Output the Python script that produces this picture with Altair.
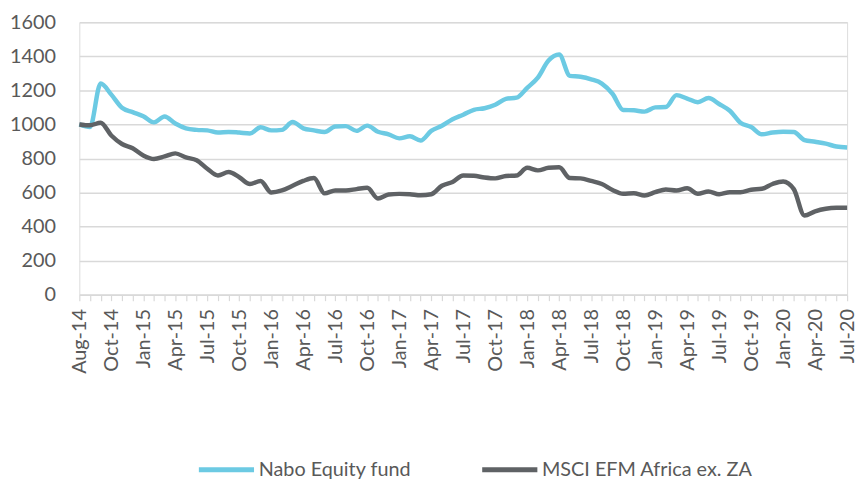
import altair as alt
import pandas as pd

tick_labels = ["Aug-14", "Oct-14", "Jan-15", "Apr-15", "Jul-15", "Oct-15", "Jan-16", "Apr-16",
               "Jul-16", "Oct-16", "Jan-17", "Apr-17", "Jul-17", "Oct-17", "Jan-18", "Apr-18",
               "Jul-18", "Oct-18", "Jan-19", "Apr-19", "Jul-19", "Oct-19", "Jan-20", "Apr-20", "Jul-20"]

series_names = ["Nabo Equity fund", "MSCI EFM Africa ex. ZA"]

nabo = [1000, 985, 1240, 1175, 1098, 1072, 1048, 1012, 1047, 1005,
        977, 968, 965, 952, 956, 952, 947, 983, 965, 968,
        1014, 977, 965, 955, 988, 990, 962, 993, 957, 942,
        918, 930, 905, 962, 992, 1030, 1057, 1086, 1095, 1115,
        1150, 1157, 1215, 1275, 1375, 1410, 1285, 1280, 1265, 1240,
        1180, 1085, 1083, 1075, 1100, 1102, 1172, 1152, 1130, 1155,
        1120, 1080, 1010, 985, 942, 952, 957, 955, 908, 898,
        887, 870, 864]

msci = [1000, 995, 1010, 935, 885, 860, 818, 797, 812, 830,
        806, 790, 740, 700, 720, 690, 650, 668, 600, 612,
        640, 668, 685, 595, 612, 612, 620, 628, 565, 588,
        592, 590, 584, 590, 640, 662, 700, 698, 688, 683,
        697, 700, 745, 730, 745, 748, 685, 683, 668, 650,
        615, 593, 596, 583, 602, 618, 612, 625, 593, 606,
        590, 602, 602, 616, 622, 650, 665, 620, 465, 490,
        505, 510, 510]

rows = []
for i, v in enumerate(nabo):
    rows.append({"idx": i, "series": series_names[0], "value": v})
for i, v in enumerate(msci):
    rows.append({"idx": i, "series": series_names[1], "value": v})
df = pd.DataFrame(rows)

label_arr = "[" + ",".join("'" + t + "'" for t in tick_labels) + "]"
label_expr = f"datum.value % 3 == 0 ? {label_arr}[datum.value / 3] : ''"

FONT = "Lato"
TXT = "#595959"
GRID = "#D9D9D9"

chart = alt.Chart(df).mark_line(strokeWidth=4.5, interpolate="monotone").encode(
    x=alt.X("idx:Q",
            scale=alt.Scale(domain=[0, len(nabo) - 1], nice=False, zero=False),
            axis=alt.Axis(values=list(range(len(nabo))), labelExpr=label_expr,
                          labelAngle=270, labelFont=FONT, labelFontSize=20,
                          labelColor=TXT, grid=False, domainColor=GRID,
                          domainWidth=1.5, tickColor=GRID, tickWidth=1.2,
                          tickSize=6, labelPadding=8, title=None,
                          labelOverlap=False, labelFlush=False, labelBound=False)),
    y=alt.Y("value:Q",
            scale=alt.Scale(domain=[0, 1600], nice=False),
            axis=alt.Axis(values=list(range(0, 1601, 200)), format="d", labelFont=FONT,
                          labelFontSize=20, labelColor=TXT, grid=True,
                          gridColor=GRID, gridWidth=1.5, domain=False,
                          ticks=False, labelPadding=24, title=None)),
    color=alt.Color("series:N",
                    scale=alt.Scale(domain=series_names, range=["#6CCAE3", "#5F6265"]),
                    legend=alt.Legend(orient="none", legendX=118, legendY=421,
                                      direction="horizontal", title=None,
                                      symbolType="stroke", symbolSize=3100,
                                      symbolStrokeWidth=5, labelFont=FONT,
                                      labelFontSize=20, labelColor=TXT,
                                      labelLimit=400,
                                      labelOffset=2, columnPadding=61)),
    order=alt.Order("idx:Q"),
).properties(
    width=775, height=275,
    autosize=alt.AutoSizeParams(type="none"),
    padding={"left": 72, "top": 12, "right": 12, "bottom": 220},
).configure_view(stroke=None).configure(background="white")

chart.save("out.html", embed_options={"renderer": "svg", "actions": False})
